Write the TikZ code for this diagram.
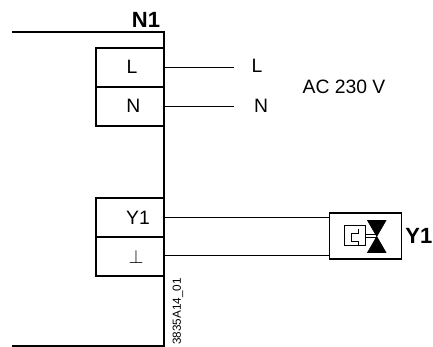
\documentclass[tikz,border=0pt]{standalone}
\usepackage{fontspec}
\setmainfont{Liberation Sans}
\usetikzlibrary{positioning}
\tikzset{
    terminal/.style={
        rectangle, draw=black, line width=0.75pt, minimum width=51pt, minimum height=28.5pt, inner sep=0pt, text centered, font=\fontsize{14.5}{16}\selectfont
    },
    device/.style={
        line width=1.5pt
    },
    wire/.style={
        line width=0.75pt
    },
    plainlabel/.style={
        inner sep=0pt, font=\fontsize{14.5}{16}\selectfont
    },
    boldlabel/.style={
        inner sep=0pt, font=\fontsize{16.5}{18}\selectfont\bfseries
    }
}

\begin{document}
\begin{tikzpicture}[x=0.75pt, y=-0.75pt]

            \useasboundingbox (0,0) rectangle (433,347);

            % Controller outline
            \coordinate (topleft) at (12,32);
            \coordinate (topright) at (164,32);
            \coordinate (bottomright) at (164,345.5);
            \coordinate (bottomleft) at (12,345.5);
            \draw[device] (topleft) -- (topright) -- (bottomright) -- (bottomleft);
            \node[boldlabel] (title) at (146,20) {N1};

            % Mains terminals
            \node[terminal] (termL) at (130,67) {\hspace*{3pt}L};
            \node[terminal, below=0pt of termL] (termN) {\hspace*{5pt}N};
            \draw[device] (termL.north east) -- (termL.north west) -- (termN.south west) -- (termN.south east);

            % Output terminals
            \node[terminal] (termY) at (130,217.5) {\hspace*{12pt}Y1};
            \node[terminal, below=0pt of termY] (termG) {\hspace*{9pt}\(\perp\)};
            \draw[device] (termY.north east) -- (termY.north west) -- (termG.south west) -- (termG.south east);

            % Mains wires
            \coordinate (endL) at (termL.east -| 234,0);
            \coordinate (endN) at (termN.east -| 234,0);
            \draw[wire] (termL.east) -- (endL);
            \draw[wire] (termN.east) -- (endN);
            \node[plainlabel] (labelL) at (257,66) {L};
            \node[plainlabel] (labelN) at (261,106) {N};
            \node[plainlabel] (supply) at (344,87) {AC 230 V};

            % Actuator
            \node[draw, line width=1.4pt, minimum width=54pt, minimum height=34.5pt, inner sep=0pt] (valve) at (365.5,236) {};
            \node[boldlabel, right=2pt of valve] (labelY) {Y1};
            \draw[wire] (termY.east) -- (termY.east -| valve.west);
            \draw[wire] ([yshift=1.1pt]termG.east) -- ([yshift=1.1pt]termG.east -| valve.west);

            % Valve symbol
            \node[draw, line width=0.75pt, minimum size=15.5pt, inner sep=0pt] (motor) at (355,235.5) {};
            \draw[wire] (358,229) -- (358,233.5) -- (351.5,233.5) -- (351.5,241.5) -- (358,241.5) -- (358,246);
            \draw[fill=black] (367.5,220.5) -- (386,220.5) -- (367.5,252.5) -- (386,252.5) -- cycle;
            \draw[line width=0.5pt] ([yshift=1.2pt]motor.east) -- ++(8pt,0);
            \draw[line width=0.5pt] ([yshift=-1.2pt]motor.east) -- ++(8pt,0);

            % Drawing number
            \node[rotate=90, inner sep=0pt, font=\fontsize{8.8}{10}\selectfont] (drawno) at (178,311.5) {3835A14\_01};

\end{tikzpicture}
\end{document}
